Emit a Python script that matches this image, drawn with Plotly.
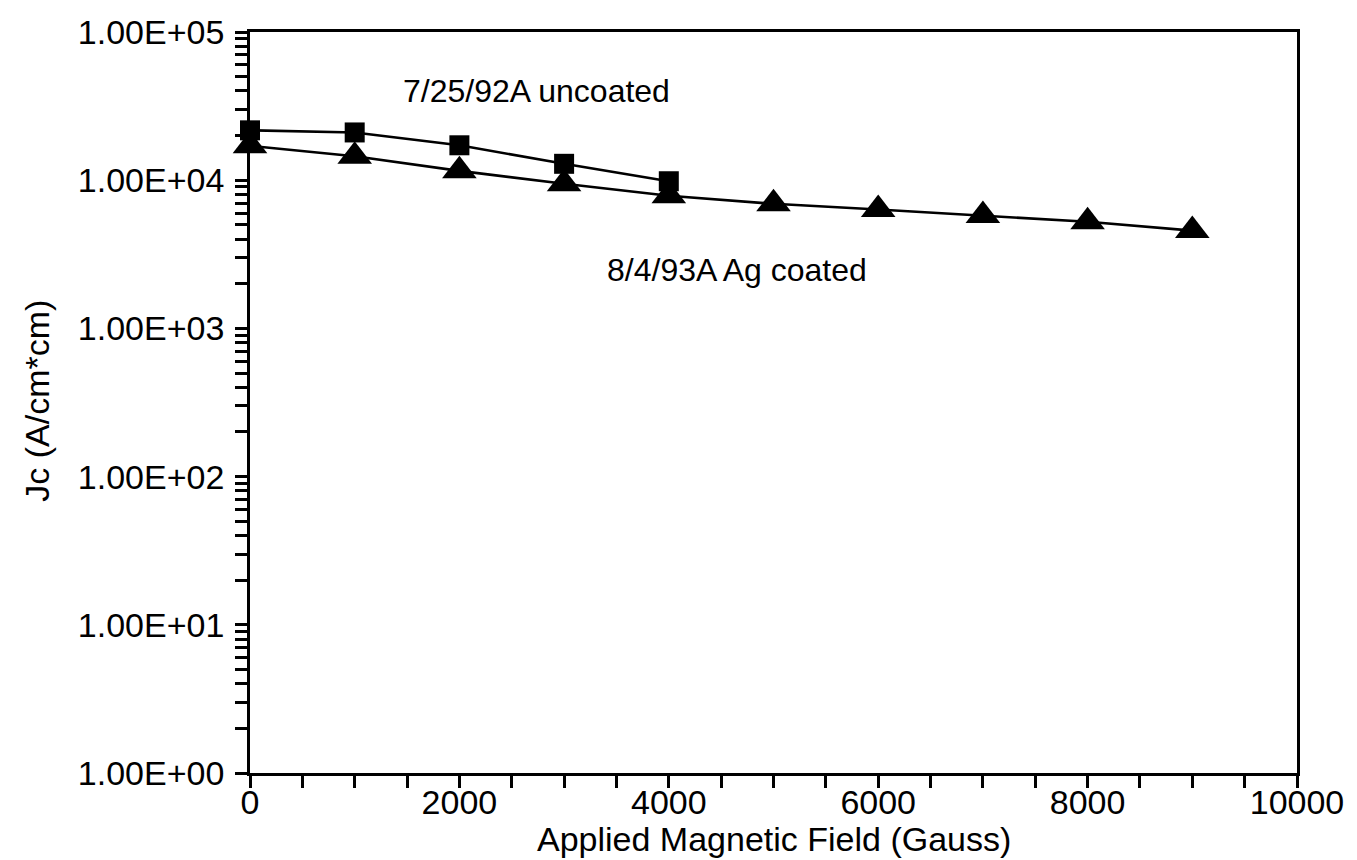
import plotly.graph_objects as go

# ---- data ----
field_uncoated = [0, 1000, 2000, 3000, 4000]
jc_uncoated = [21700, 21000, 17200, 12900, 9840]

field_coated = [0, 1000, 2000, 3000, 4000, 5000, 6000, 7000, 8000, 9000]
jc_coated = [17060, 14500, 11560, 9460, 7850, 6930, 6340, 5780, 5240, 4570]

y_tickvals = [1, 10, 100, 1000, 10000, 100000]
y_ticktext = ["1.00E+00", "1.00E+01", "1.00E+02", "1.00E+03", "1.00E+04", "1.00E+05"]
x_tickvals = [0, 2000, 4000, 6000, 8000, 10000]
x_ticktext = ["0", "2000", "4000", "6000", "8000", "10000"]

label_uncoated = "7/25/92A uncoated"
label_coated = "8/4/93A Ag coated"
x_title = "Applied Magnetic Field (Gauss)"
y_title = "Jc (A/cm*cm)"

FONT = "Liberation Sans, Arial, sans-serif"
TICK_SIZE = 34
TITLE_SIZE = 34
NOTE_SIZE = 32

y_minor = [k * 10 ** d for d in range(0, 5) for k in range(2, 10)]
x_minor = list(range(500, 10000, 500))

fig = go.Figure()
fig.add_trace(go.Scatter(
    x=field_coated, y=jc_coated, mode="lines+markers",
    line=dict(color="black", width=2.6),
    marker=dict(symbol="triangle-up", size=30, color="black"),
    cliponaxis=False, showlegend=False,
))
fig.add_trace(go.Scatter(
    x=field_uncoated, y=jc_uncoated, mode="lines+markers",
    line=dict(color="black", width=2.6),
    marker=dict(symbol="square", size=20, color="black"),
    cliponaxis=False, showlegend=False,
))

fig.add_annotation(x=2740, y=4.604, xref="x", yref="y", text=label_uncoated,
                   showarrow=False, font=dict(family=FONT, size=NOTE_SIZE, color="black"))
fig.add_annotation(x=4650, y=3.395, xref="x", yref="y", text=label_coated,
                   showarrow=False, font=dict(family=FONT, size=NOTE_SIZE, color="black"))
fig.add_annotation(x=-0.203, y=0.503, xref="paper", yref="paper", text=y_title,
                   showarrow=False, textangle=-90, xanchor="center", yanchor="middle",
                   font=dict(family=FONT, size=TITLE_SIZE, color="black"))
fig.add_annotation(x=0.5, y=-0.089, xref="paper", yref="paper", text=x_title,
                   showarrow=False, xanchor="center", yanchor="middle",
                   font=dict(family=FONT, size=TITLE_SIZE, color="black"))

fig.update_layout(
    width=1357, height=860,
    margin=dict(l=242, r=68, t=24, b=95, autoexpand=False),
    paper_bgcolor="white", plot_bgcolor="white",
    font=dict(family=FONT, size=TICK_SIZE, color="black"),
)

fig.update_xaxes(
    range=[0, 10000], tickvals=x_tickvals, ticktext=x_ticktext,
    ticks="outside", ticklen=12, tickwidth=2.5, tickcolor="black",
    ticklabelstandoff=-15,
    minor=dict(tickvals=x_minor, ticks="outside",
               ticklen=12, tickwidth=2.5, tickcolor="black", showgrid=False),
    showline=True, linewidth=2.6, linecolor="black", mirror=True,
    showgrid=False, zeroline=False,
    tickfont=dict(family=FONT, size=TICK_SIZE, color="black"),
)
fig.update_yaxes(
    type="log", range=[0, 5], tickvals=y_tickvals, ticktext=y_ticktext,
    ticks="outside", ticklen=12, tickwidth=2.5, tickcolor="black",
    ticklabelstandoff=4,
    minor=dict(tickvals=y_minor, ticks="outside", ticklen=12, tickwidth=2.5,
               tickcolor="black", showgrid=False),
    showline=True, linewidth=2.6, linecolor="black", mirror=True,
    showgrid=False, zeroline=False,
    tickfont=dict(family=FONT, size=TICK_SIZE, color="black"),
)

fig.write_html("out.html")
